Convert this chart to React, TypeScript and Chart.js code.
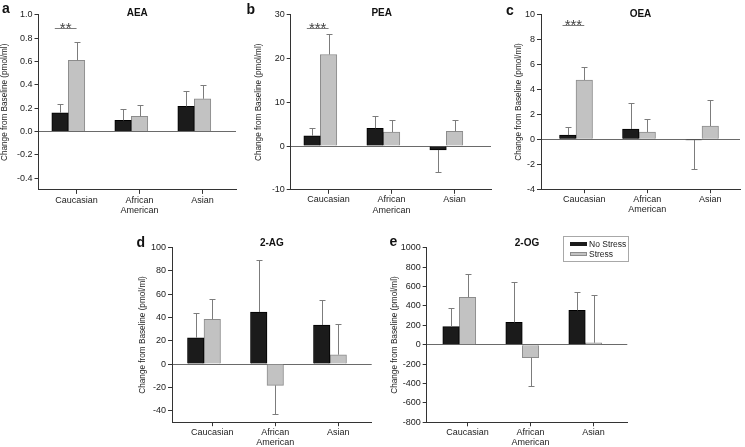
import React, { useEffect, useRef } from 'react';
import { Chart, registerables } from 'chart.js';

Chart.register(...registerables);

const FONT = '"Liberation Sans", Arial, Helvetica, sans-serif';

// ---------- data ----------
const categories = [['Caucasian'], ['African', 'American'], ['Asian']];
const seriesNames = ['No Stress', 'Stress'];
const yAxisTitle = 'Change from Baseline (pmol/ml)';

// a: AEA
const aeaNoStress = [0.16, 0.095, 0.215];
const aeaNoStressErr = [0.075, 0.095, 0.13];
const aeaStress = [0.61, 0.13, 0.28];
const aeaStressErr = [0.16, 0.1, 0.115];
const aeaTicks = ['1.0', '0.8', '0.6', '0.4', '0.2', '0.0', '-0.2', '-0.4'];
const aeaRange = [-0.5, 1.0];
const aeaSig = { index: 0, value: 0.89, label: '**' };

// b: PEA
const peaNoStress = [2.35, 4.05, -0.9];
const peaNoStressErr = [1.7, 2.9, 5.1];
const peaStress = [20.9, 3.2, 3.35];
const peaStressErr = [4.6, 2.7, 2.5];
const peaTicks = ['30', '20', '10', '0', '-10'];
const peaRange = [-10, 30];
const peaSig = { index: 0, value: 27.0, label: '***' };

// c: OEA
const oeaNoStress = [0.34, 0.83, -0.05];
const oeaNoStressErr = [0.65, 2.11, 2.36];
const oeaStress = [4.76, 0.59, 1.07];
const oeaStressErr = [1.04, 1.06, 2.11];
const oeaTicks = ['10', '8', '6', '4', '2', '0', '-2', '-4'];
const oeaRange = [-4, 10];
const oeaSig = { index: 0, value: 9.17, label: '***' };

// d: 2-AG
const agNoStress = [22.6, 44.7, 33.5];
const agNoStressErr = [21.0, 44.7, 21.2];
const agStress = [38.4, -18.3, 8.0];
const agStressErr = [17.5, 24.4, 26.7];
const agTicks = ['100', '80', '60', '40', '20', '0', '-20', '-40'];
const agRange = [-50, 100];

// e: 2-OG
const ogNoStress = [186, 230, 354];
const ogNoStressErr = [188, 413, 192];
const ogStress = [488, -134, 20];
const ogStressErr = [244, 292, 492];
const ogTicks = ['1000', '800', '600', '400', '200', '0', '-200', '-400', '-600', '-800'];
const ogRange = [-800, 1000];

// ---------- layout (page pixel positions) ----------
type Layout = {
  canvasLeft: number; canvasTop: number; canvasH: number;
  plotLeft: number; plotRight: number; plotTop: number; plotBottom: number;
  titleX: number; titleY: number; yTitleX: number; xMin: number; xMax: number;
};

const panels = [
  {
    letter: 'a', title: 'AEA', ns: aeaNoStress, nsErr: aeaNoStressErr, s: aeaStress, sErr: aeaStressErr,
    ticks: aeaTicks, range: aeaRange, sig: aeaSig as any, letterPos: [2, 0],
    layout: { canvasLeft: 0, canvasTop: 0, canvasH: 225, plotLeft: 38.5, plotRight: 236, plotTop: 14.7, plotBottom: 189.9, titleX: 137.3, titleY: 13, yTitleX: 5, xMin: -0.473, xMax: 2.662 } as Layout,
  },
  {
    letter: 'b', title: 'PEA', ns: peaNoStress, nsErr: peaNoStressErr, s: peaStress, sErr: peaStressErr,
    ticks: peaTicks, range: peaRange, sig: peaSig as any, letterPos: [246.5, 0.5],
    layout: { canvasLeft: 250, canvasTop: 0, canvasH: 225, plotLeft: 290.7, plotRight: 491, plotTop: 14.7, plotBottom: 189.8, titleX: 381.7, titleY: 13.3, yTitleX: 259, xMin: -0.47, xMax: 2.709 } as Layout,
  },
  {
    letter: 'c', title: 'OEA', ns: oeaNoStress, nsErr: oeaNoStressErr, s: oeaStress, sErr: oeaStressErr,
    ticks: oeaTicks, range: oeaRange, sig: oeaSig as any, letterPos: [506, 2],
    layout: { canvasLeft: 505, canvasTop: 0, canvasH: 225, plotLeft: 541, plotRight: 740, plotTop: 14.7, plotBottom: 189.2, titleX: 645.7, titleY: 14.5, yTitleX: 519, xMin: -0.556, xMax: 2.603 } as Layout,
  },
  {
    letter: 'd', title: '2-AG', ns: agNoStress, nsErr: agNoStressErr, s: agStress, sErr: agStressErr,
    ticks: agTicks, range: agRange, sig: null as any, letterPos: [136.5, 233.5],
    layout: { canvasLeft: 128, canvasTop: 228, canvasH: 219, plotLeft: 172, plotRight: 371.7, plotTop: 247.7, plotBottom: 422.2, titleX: 272.7, titleY: 243.3, yTitleX: 142.7, xMin: -0.508, xMax: 2.662 } as Layout,
  },
  {
    letter: 'e', title: '2-OG', ns: ogNoStress, nsErr: ogNoStressErr, s: ogStress, sErr: ogStressErr,
    ticks: ogTicks, range: ogRange, sig: null as any, letterPos: [389.5, 233],
    layout: { canvasLeft: 385, canvasTop: 228, canvasH: 219, plotLeft: 426.7, plotRight: 627.3, plotTop: 247.7, plotBottom: 422.3, titleX: 529, titleY: 243.3, yTitleX: 395, xMin: -0.517, xMax: 2.667 } as Layout,
  },
];

const BAR_W = 16.5;
const NS_COLOR = '#1b1b1b';
const S_COLOR = '#c2c2c2';
const S_BORDER = '#8c8c8c';
const AXIS = '#333333';

const errorBarPlugin = {
  id: 'errorBars',
  afterDatasetsDraw(chart: any) {
    const ctx = chart.ctx;
    const yScale = chart.scales.y;
    chart.data.datasets.forEach((ds: any, di: number) => {
      const meta = chart.getDatasetMeta(di);
      meta.data.forEach((bar: any, i: number) => {
        const v = ds.data[i].y;
        const e = ds.errors[i];
        const end = v >= 0 ? v + e : v - e;
        const py = Math.round(yScale.getPixelForValue(end)) + 0.5;
        const px = Math.round(bar.x) + 0.5;
        ctx.save();
        ctx.strokeStyle = '#7c7c7c';
        ctx.lineWidth = 1;
        ctx.beginPath();
        ctx.moveTo(px, bar.y);
        ctx.lineTo(px, py);
        ctx.moveTo(px - 3, py);
        ctx.lineTo(px + 3, py);
        ctx.stroke();
        ctx.restore();
      });
    });
  },
};

const sigPlugin = {
  id: 'sigBar',
  afterDatasetsDraw(chart: any, _args: any, opts: any) {
    if (!opts || !opts.label) return;
    const ctx = chart.ctx;
    const b0 = chart.getDatasetMeta(0).data[opts.index];
    const b1 = chart.getDatasetMeta(1).data[opts.index];
    const x1 = b0.x - BAR_W / 2 + 3;
    const x2 = b1.x;
    const y = Math.round(chart.scales.y.getPixelForValue(opts.value)) + 0.5;
    ctx.save();
    ctx.strokeStyle = '#7c7c7c';
    ctx.lineWidth = 1;
    ctx.beginPath();
    ctx.moveTo(x1, y);
    ctx.lineTo(x2, y);
    ctx.stroke();
    ctx.fillStyle = '#444';
    ctx.font = `15px ${FONT}`;
    ctx.textAlign = 'center';
    ctx.textBaseline = 'alphabetic';
    ctx.fillText(opts.label, (x1 + x2) / 2, y + 4.5);
    ctx.restore();
  },
};

function Panel({ p }: { p: any }) {
  const ref = useRef<HTMLCanvasElement | null>(null);
  const L: Layout = p.layout;
  const canvasW = Math.ceil(L.plotRight - L.canvasLeft + 6);
  useEffect(() => {
    if (!ref.current) return;
    const padR = canvasW - (L.plotRight - L.canvasLeft);
    const Lt = 2 * L.titleX - L.plotRight;
    const fullSize = Lt <= L.plotLeft - 2 && Lt >= L.canvasLeft;
    const padL = fullSize ? Lt - L.canvasLeft : 0;
    const yW = L.plotLeft - L.canvasLeft - padL;
    const xH = L.canvasH - (L.plotBottom - L.canvasTop);
    const yTitleLh = 8 * 1.2;
    const yTitlePad = L.yTitleX - (L.canvasLeft + padL) - yTitleLh / 2;
    const tLh = 12;
    const tPadTop = L.titleY - L.canvasTop - tLh / 2;
    const tPadBottom = L.plotTop - L.canvasTop - tLh - tPadTop;
    const spacing = (L.plotRight - L.plotLeft) / (L.xMax - L.xMin);
    const tickShift = BAR_W / 2 / spacing;
    const tickLabels: string[] = p.ticks;

    const chart = new Chart(ref.current, {
      type: 'bar',
      data: {
        datasets: [
          {
            label: seriesNames[0],
            data: p.ns.map((v: number, i: number) => ({ x: i, y: v })),
            errors: p.nsErr,
            backgroundColor: NS_COLOR,
            borderColor: '#000',
            borderWidth: 1,
            barThickness: BAR_W,
          } as any,
          {
            label: seriesNames[1],
            data: p.s.map((v: number, i: number) => ({ x: i, y: v })),
            errors: p.sErr,
            backgroundColor: S_COLOR,
            borderColor: S_BORDER,
            borderWidth: 1,
            barThickness: BAR_W,
          } as any,
        ],
      },
      options: {
        responsive: false,
        animation: false,
        events: [],
        layout: { padding: { left: padL, right: padR, top: 0, bottom: 0 } },
        scales: {
          x: {
            type: 'linear',
            min: L.xMin,
            max: L.xMax,
            offset: false,
            afterBuildTicks: (s: any) => {
              s.ticks = categories.map((_, i) => ({ value: i + tickShift }));
            },
            afterFit: (s: any) => { s.height = xH; },
            ticks: {
              autoSkip: false,
              maxRotation: 0,
              minRotation: 0,
              padding: 1,
              color: '#222',
              font: { family: FONT, size: 9, lineHeight: 1.15 },
              callback: (_v: any, i: number) => categories[i],
            },
            grid: { offset: false, drawOnChartArea: false, drawTicks: true, tickLength: 4, color: AXIS },
            border: { display: true, color: AXIS, width: 1 },
          } as any,
          y: {
            type: 'linear',
            min: p.range[0],
            max: p.range[1],
            afterBuildTicks: (s: any) => {
              s.ticks = tickLabels.map((t) => ({ value: parseFloat(t) })).sort((a, b) => a.value - b.value);
            },
            afterFit: (s: any) => { s.width = yW; },
            ticks: {
              padding: 2,
              color: '#222',
              font: { family: FONT, size: 9 },
              callback: (v: number) => tickLabels.find((t) => parseFloat(t) === v) ?? '',
            },
            grid: {
              drawOnChartArea: true,
              drawTicks: true,
              tickLength: 4,
              color: (c: any) => (c.tick && c.tick.value === 0 ? '#6a6a6a' : 'rgba(0,0,0,0)'),
              tickColor: AXIS,
            },
            border: { display: true, color: AXIS, width: 1 },
            title: {
              display: true,
              text: yAxisTitle,
              color: '#222',
              font: { family: FONT, size: 8.2, lineHeight: 1.17 },
              padding: { top: yTitlePad, bottom: 0 },
            },
          } as any,
        },
        plugins: {
          legend: { display: false },
          tooltip: { enabled: false },
          title: {
            display: true,
            text: p.title,
            fullSize,
            color: '#111',
            font: { family: FONT, size: 10, weight: 'bold', lineHeight: 1.2 },
            padding: { top: tPadTop, bottom: tPadBottom },
          },
          sigBar: p.sig || {},
        } as any,
      },
      plugins: [errorBarPlugin, sigPlugin],
    });
    return () => chart.destroy();
  }, []);
  return (
    <canvas
      ref={ref}
      width={canvasW}
      height={L.canvasH}
      style={{ position: 'absolute', left: L.canvasLeft, top: L.canvasTop, width: canvasW, height: L.canvasH }}
    />
  );
}

export default function App() {
  return (
    <div style={{ position: 'absolute', left: 0, top: 0, width: 745, height: 447, overflow: 'hidden', background: '#fff' }}>
      {panels.map((p) => (
        <Panel key={p.letter} p={p} />
      ))}
      {panels.map((p) => (
        <div
          key={'l' + p.letter}
          style={{ position: 'absolute', left: p.letterPos[0], top: p.letterPos[1], font: `bold 14px/16px ${FONT}`, color: '#111' }}
        >
          {p.letter}
        </div>
      ))}
      <div
        style={{
          position: 'absolute', left: 563, top: 236, width: 66, height: 26, boxSizing: 'border-box',
          border: '1px solid #a8a8a8', font: `8.5px/10px ${FONT}`, color: '#222',
        }}
      >
        <div style={{ position: 'absolute', left: 6, top: 5, width: 17, height: 4, background: NS_COLOR }} />
        <div style={{ position: 'absolute', left: 25, top: 2, whiteSpace: 'nowrap' }}>{seriesNames[0]}</div>
        <div style={{ position: 'absolute', left: 6, top: 15, width: 17, height: 4, boxSizing: 'border-box', background: S_COLOR, border: `1px solid ${S_BORDER}` }} />
        <div style={{ position: 'absolute', left: 25, top: 12, whiteSpace: 'nowrap' }}>{seriesNames[1]}</div>
      </div>
    </div>
  );
}
